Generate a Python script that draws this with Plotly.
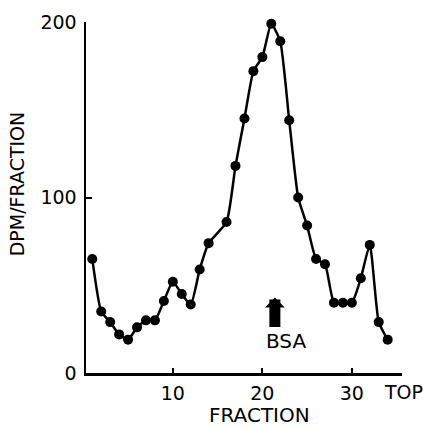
import plotly.graph_objects as go

fractions = [1, 2, 3, 4, 5, 6, 7, 8, 9, 10, 11, 12, 13, 14,
             16, 17, 18, 19, 20, 21, 22, 23, 24, 25, 26, 27, 28, 29, 30, 31, 32, 33, 34]
dpm = [65, 35, 29, 22, 19, 26, 30, 30, 41, 52, 45, 39, 59, 74,
       86, 118, 145, 172, 180, 199, 189, 144, 100, 84, 65, 62, 40, 40, 40, 54, 73, 29, 19]

x_ticks = [10, 20, 30]
y_ticks = [0, 100, 200]

FONT = "DejaVu Sans"

fig = go.Figure()
fig.add_trace(go.Scatter(
    x=fractions, y=dpm, mode="lines+markers",
    line=dict(color="black", width=2.5, shape="spline", smoothing=0.5),
    marker=dict(color="black", size=10),
    showlegend=False, hoverinfo="skip", cliponaxis=False,
))

fig.update_layout(
    width=423, height=428,
    margin=dict(l=86, r=21, t=22, b=55, autoexpand=False),
    paper_bgcolor="white", plot_bgcolor="white",
    font=dict(family=FONT, size=19, color="black"),
    hovermode=False,
    xaxis=dict(range=[0.3, 35.6], tickvals=x_ticks, ticks="inside", ticklen=5,
               tickwidth=2, tickcolor="black", showline=True, linewidth=2.5,
               linecolor="black", showgrid=False, zeroline=False, automargin=False,
               tickfont=dict(family=FONT, size=19), ticklabelstandoff=2),
    yaxis=dict(range=[0, 200], tickvals=y_ticks, ticks="inside", ticklen=6,
               tickwidth=2, tickcolor="black", showline=True, linewidth=2.5,
               linecolor="black", showgrid=False, zeroline=False, automargin=False,
               tickfont=dict(family=FONT, size=19), ticklabelstandoff=3),
    annotations=[
        dict(text="FRACTION", xref="paper", yref="paper", x=0.55, y=-0.121,
             showarrow=False, xanchor="center", yanchor="middle",
             font=dict(family=FONT, size=20)),
        dict(text="DPM/FRACTION", xref="paper", yref="paper", x=-0.218, y=0.538,
             textangle=-90, showarrow=False, xanchor="center", yanchor="middle",
             font=dict(family=FONT, size=19)),
        dict(text="TOP", xref="paper", yref="paper", x=1.006, y=-0.053,
             showarrow=False, xanchor="center", yanchor="middle",
             font=dict(family=FONT, size=19)),
        dict(text="BSA", xref="x", yref="y", x=22.6, y=18, showarrow=False,
             xanchor="center", yanchor="middle", font=dict(family=FONT, size=20)),
        dict(text="", xref="x", yref="y", x=21.4, y=43, ax=0, ay=31,
             showarrow=True, arrowhead=1, arrowwidth=11, arrowsize=0.3,
             arrowcolor="black"),
    ],
)

fig.write_html(
    "out.html",
    config={"displayModeBar": False, "staticPlot": True},
    post_script="document.body.style.margin='0';document.body.style.overflow='hidden';",
)
